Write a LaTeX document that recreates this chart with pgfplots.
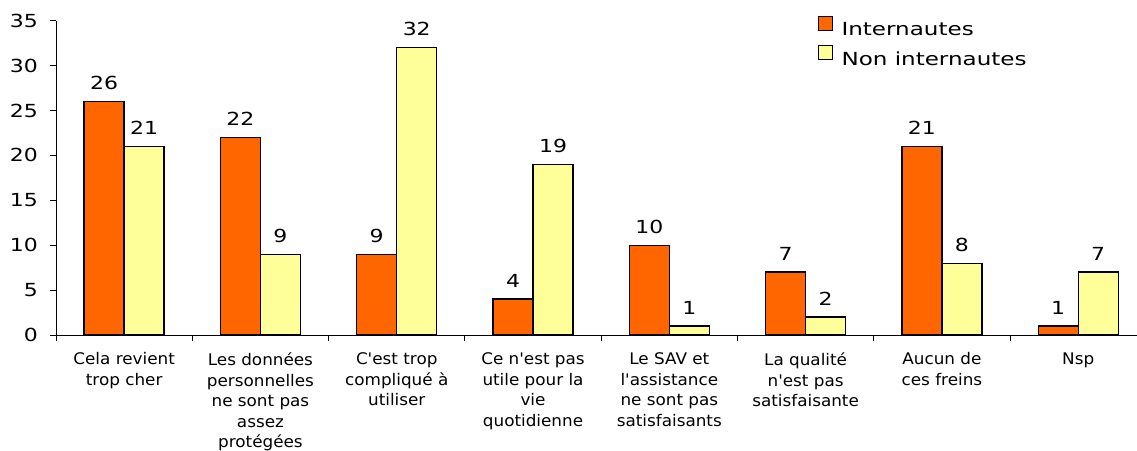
\documentclass[border=0pt]{standalone}
\usepackage{pgfplots}
\pgfplotsset{compat=1.18}
\usepackage{fontspec}
\setmainfont{DejaVu Sans}
\newfontfamily\wide{DejaVu Sans}[FakeStretch=1.22]
\newfontfamily\legf{DejaVu Sans}[FakeStretch=1.28]
\newfontfamily\catf{DejaVu Sans}[FakeStretch=1.05]
\definecolor{orng}{HTML}{FF6600}
\definecolor{ylw}{HTML}{FFFF99}
\begin{document}
\begin{tikzpicture}[x=1pt,y=1pt]
\useasboundingbox (0,0) rectangle (1137,450);
\begin{axis}[
  at={(56pt,115pt)}, anchor=south west,
  scale only axis, width=1090.4pt, height=314.3pt,
  xmin=0, xmax=8, ymin=0, ymax=35,
  axis x line*=bottom, axis y line*=left,
  axis line style={black, line width=1pt},
  ytick={0,5,...,35},
  xtick={0.5,1.5,...,7.5},
  xticklabels={{Cela revient\\trop cher},{Les données\\personnelles\\ne sont pas\\assez\\protégées},{C'est trop\\compliqué à\\utiliser},{Ce n'est pas\\utile pour la\\vie\\quotidienne},{Le SAV et\\l'assistance\\ne sont pas\\satisfaisants},{La qualité\\n'est pas\\satisfaisante},{Aucun de\\ces freins},{Nsp}},
  minor xtick={0,1,...,8},
  major x tick style={draw=none},
  tick style={black, line width=1pt},
  tick align=outside,
  major tick length=6pt, minor tick length=6pt,
  /pgf/number format/assume math mode=true,
  yticklabel style={font=\wide\fontsize{18}{18}\selectfont, inner sep=0pt, xshift=-12pt},
  xticklabel style={font=\catf\fontsize{16}{20.6}\selectfont, align=center, text width=130pt, inner sep=0pt, yshift=-11.5pt},
  ybar=0pt, bar width=40pt,
  nodes near coords,
  every node near coord/.append style={font=\wide\fontsize{18}{18}\selectfont, inner sep=0pt, yshift=11pt, black},
  legend style={at={(0.6955,1.022)}, anchor=north west, draw=none, fill=none,
    font=\legf\fontsize{18}{18}\selectfont, row sep=8pt, column sep=9pt,
    nodes={inner sep=0pt}},
  legend cell align=left,
  legend image code/.code={\draw[#1,draw=black,line width=1pt] (0pt,-0.5pt) rectangle (14pt,13.5pt);},
]
\addplot[fill=orng, draw=black, line width=1.3pt] coordinates {(0.5,26) (1.5,22) (2.5,9) (3.5,4) (4.5,10) (5.5,7) (6.5,21) (7.5,1)};
\addplot[fill=ylw, draw=black, line width=1.3pt] coordinates {(0.5,21) (1.5,9) (2.5,32) (3.5,19) (4.5,1) (5.5,2) (6.5,8) (7.5,7)};
\legend{Internautes, Non internautes}
\end{axis}
\end{tikzpicture}
\end{document}
